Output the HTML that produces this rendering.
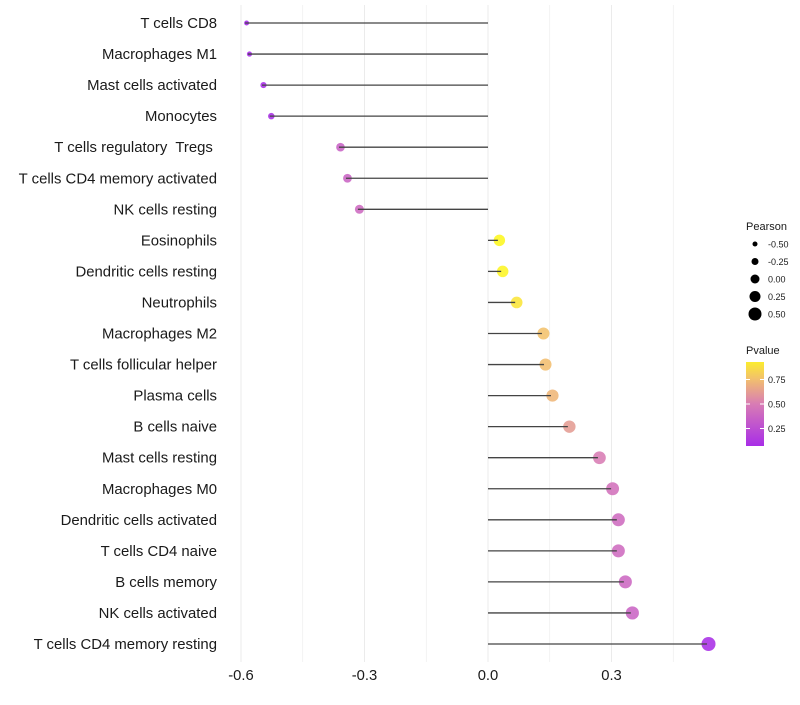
<!DOCTYPE html>
<html><head><meta charset="utf-8"><style>
body{margin:0;background:#fff;font-family:"Liberation Sans",sans-serif;}
svg text{font-family:"Liberation Sans",sans-serif;white-space:pre;}
</style></head><body>
<svg id="chart" width="800" height="700" xmlns="http://www.w3.org/2000/svg">
<g id="grid"></g>
<g id="marks"></g>
<g id="ylabels"></g>
<g id="xlabels"></g>
<g id="legend"></g>
</svg>
<script>
const categories=["T cells CD8","Macrophages M1","Mast cells activated","Monocytes","T cells regulatory  Tregs ","T cells CD4 memory activated","NK cells resting","Eosinophils","Dendritic cells resting","Neutrophils","Macrophages M2","T cells follicular helper","Plasma cells","B cells naive","Mast cells resting","Macrophages M0","Dendritic cells activated","T cells CD4 naive","B cells memory","NK cells activated","T cells CD4 memory resting"];
const pearson=[-0.59,-0.583,-0.549,-0.53,-0.362,-0.345,-0.316,0.024,0.032,0.066,0.131,0.136,0.153,0.194,0.267,0.299,0.313,0.313,0.33,0.347,0.532];
const pvalues=[0.04,0.05,0.07,0.08,0.36,0.37,0.4,0.97,0.96,0.9,0.76,0.75,0.72,0.62,0.5,0.44,0.41,0.41,0.39,0.37,0.08];
const xTicks=[-0.6,-0.3,0.0,0.3];
const xTickLabels=["-0.6","-0.3","0.0","0.3"];
const legendSizes=[-0.5,-0.25,0,0.25,0.5];
const legendSizeLabels=["-0.50","-0.25","0.00","0.25","0.50"];
const pTicks=[0.25,0.5,0.75];
const pTickLabels=["0.25","0.50","0.75"];

const NS="http://www.w3.org/2000/svg";
const X=v=>488+v*411.7;
const Y=i=>23+i*31.05;
const R=v=>2+5*Math.sqrt(Math.max(0,(v+0.6)/1.13));
const RL=v=>4.5+4*v;
const stops=[[0,[160,32,240]],[0.5,[216,124,180]],[0.75,[242,190,112]],[1,[255,255,20]]];
function col(p){for(let i=1;i<stops.length;i++){if(p<=stops[i][0]){const a=stops[i-1],b=stops[i];const t=(p-a[0])/(b[0]-a[0]);return "rgb("+a[1].map((c,k)=>Math.round(c+(b[1][k]-c)*t)).join(",")+")";}}return "rgb(255,255,20)";}
function mk(tag,attrs,parent){const e=document.createElementNS(NS,tag);for(const k in attrs)e.setAttribute(k,attrs[k]);parent.appendChild(e);return e;}
const grid=document.getElementById('grid'),marks=document.getElementById('marks'),yl=document.getElementById('ylabels'),xl=document.getElementById('xlabels'),lg=document.getElementById('legend');
for(let k=-4;k<=3;k++){const v=k*0.15;const l=mk('line',{x1:X(v),x2:X(v),y1:5,y2:662,stroke:'#ebebeb','stroke-width':k%2===0?1:0.6},grid);

}
categories.forEach((c,i)=>{
 const cx=X(pearson[i]),cy=Y(i);
 const dot=mk('circle',{cx:cx+1.5,cy:cy,r:R(pearson[i]),fill:col(pvalues[i]),'fill-opacity':0.88},marks);
 
 
 const seg=mk('line',{x1:X(0),x2:cx,y1:cy,y2:cy,stroke:'#444','stroke-width':1.3},marks);
 
 
 const t=mk('text',{x:217,y:cy+5,'text-anchor':'end','font-size':14.9,fill:'#1a1a1a','xml:space':'preserve'},yl);t.textContent=c;
 
 
});
xTicks.forEach((v,i)=>{const t=mk('text',{x:X(v),y:680,'text-anchor':'middle','font-size':14.8,fill:'#1a1a1a'},xl);t.textContent=xTickLabels[i];
 
 });
let t=mk('text',{x:746,y:230,'font-size':11,fill:'#1a1a1a'},lg);t.textContent='Pearson';


legendSizes.forEach((v,i)=>{const y=244+i*17.5;const c=mk('circle',{cx:755,cy:y,r:RL(v),fill:'#000'},lg);
 
 
 const tt=mk('text',{x:768,y:y+3.5,'font-size':9,fill:'#1a1a1a'},lg);tt.textContent=legendSizeLabels[i];
 
 });
t=mk('text',{x:746,y:354,'font-size':11,fill:'#1a1a1a'},lg);t.textContent='Pvalue';


const defs=mk('defs',{},lg);const g=mk('linearGradient',{id:'pg',x1:0,y1:1,x2:0,y2:0},defs);
const pY=p=>404-(p-0.5)*98;
const pTop=(404-362)/98+0.5,pBot=0.5-(446-404)/98;
for(let k=0;k<=10;k++){const p=pBot+(pTop-pBot)*k/10;mk('stop',{offset:k/10,'stop-color':col(p)},g);}
const bar=mk('rect',{x:746,y:362,width:18,height:84,fill:'url(#pg)'},lg);


pTicks.forEach((p,i)=>{const y=pY(p);mk('line',{x1:746,x2:750,y1:y,y2:y,stroke:'#fff'},lg);mk('line',{x1:760,x2:764,y1:y,y2:y,stroke:'#fff'},lg);
 const tt=mk('text',{x:768,y:y+3.5,'font-size':9,fill:'#1a1a1a'},lg);tt.textContent=pTickLabels[i];
 
 });
</script>
</body></html>
